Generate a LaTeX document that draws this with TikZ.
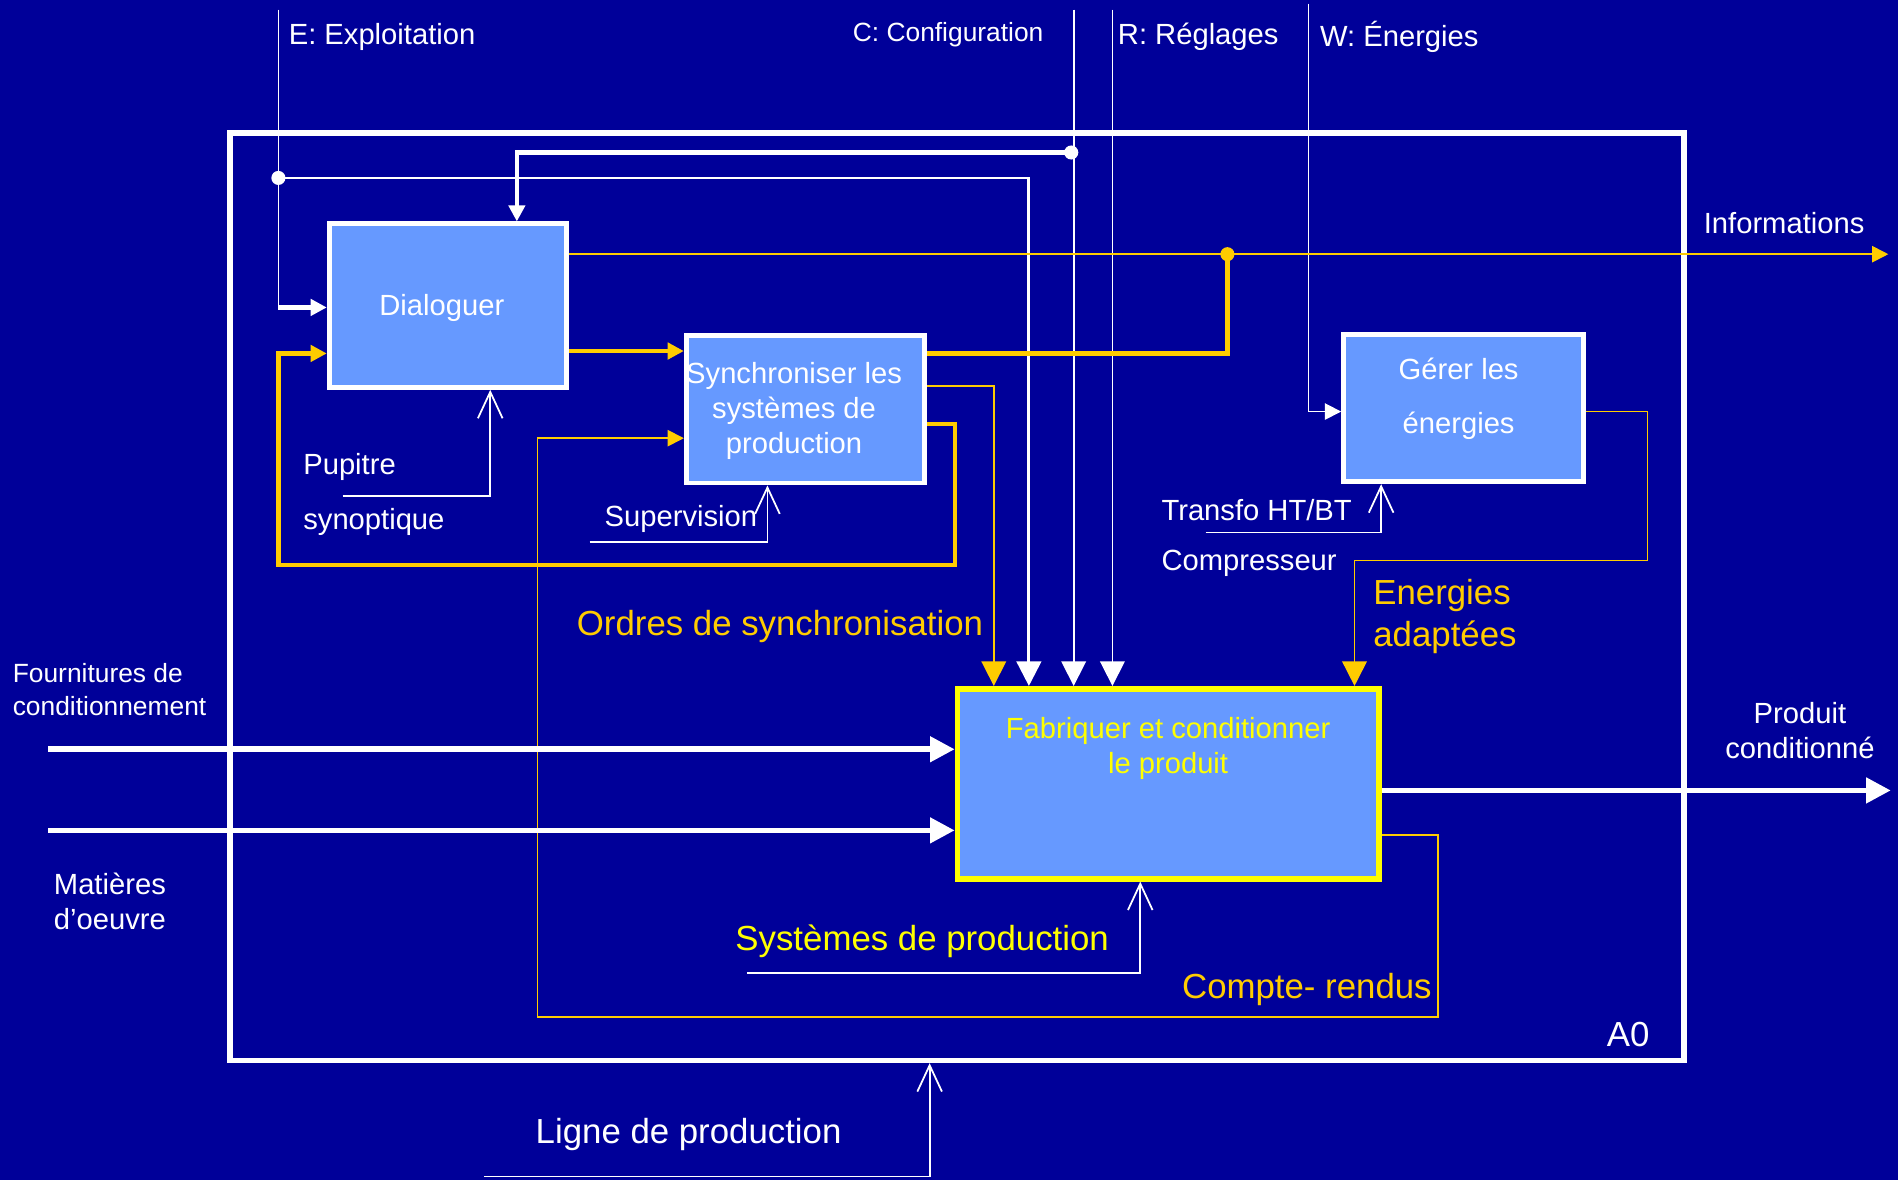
\documentclass[tikz,border=0pt]{standalone}
\usepackage{fontspec}
\setmainfont{Liberation Sans}
\usetikzlibrary{arrows.meta,fit}
\definecolor{bg}{HTML}{000099}
\definecolor{boxfill}{HTML}{6699FF}
\definecolor{orng}{HTML}{FFCC00}
\definecolor{yel}{HTML}{FFFF00}
\begin{document}
\begin{tikzpicture}[x=0.012105cm,y=-0.012105cm,
  lbl/.style={text=white,font=\fontsize{8.3}{10}\selectfont,inner sep=0pt,yshift=-0.9pt},
  smalllbl/.style={text=white,font=\fontsize{7.5}{9.3}\selectfont,inner sep=0pt,yshift=-0.9pt},
  biglbl/.style={font=\fontsize{9.9}{12}\selectfont,inner sep=0pt,yshift=-0.9pt},
  act/.style={draw=white,line width=1.4pt,fill=boxfill,inner sep=0pt},
  thinw/.style={draw=white,line width=0.5pt},
  midw/.style={draw=white,line width=0.8pt},
  thickw/.style={draw=white,line width=1.2pt},
  bigtip/.style={-{Triangle[length=7pt,width=7pt]}},
  smalltip/.style={-{Triangle[length=4.6pt,width=4.6pt]}},
  bigw/.style={draw=white,line width=1.6pt,bigtip},
  ythin/.style={draw=orng,line width=0.5pt},
  ythick/.style={draw=orng,line width=1.2pt},
  mech/.style={draw=white,line width=0.5pt,-{Straight Barb[length=7.5pt,width=7pt]}}
]
\fill[bg] (0,0) rectangle (1568,975);
\useasboundingbox (0,0) rectangle (1568,975);

% frame and activity boxes
\node[draw=white,line width=1.6pt,inner sep=0pt,fit={(190,110) (1391,876)}] (frame) {};
\node[act,fit={(272,185) (468,320)}] (dlg) {};
\node[act,fit={(567,277) (764,399)}] (syn) {};
\node[act,fit={(1110,276) (1308,398)}] (ger) {};
\node[act,draw=yel,line width=1.6pt,fit={(791,569) (1139,726)}] (fab) {};

\node[lbl] at (365,252) {Dialoguer};
\node[lbl,align=center] at (656,337) {Synchroniser les\\systèmes de\\production};
\node[lbl,align=center,font=\fontsize{8.3}{15.2}\selectfont] at (1205,327) {Gérer les\\énergies};
\node[lbl,text=yel,align=center] at (965,616) {Fabriquer et conditionner\\le produit};

% top control lines
\coordinate (ein) at (230,8);
\coordinate (cin) at (887,8);
\coordinate (rin) at (919,8);
\coordinate (win) at (1081,3);
\coordinate (edot) at (230,147);
\coordinate (cdot) at (885,126);

\draw[thinw] (ein) -- (230,254);
\draw[thickw,smalltip] (230,254) -- (dlg.west |- 230,254);
\draw[midw,bigtip] (edot) -| (850,0 |- fab.north);
\draw[thinw,bigtip] (cin) -- (887,0 |- fab.north);
\draw[thickw,smalltip] (cdot) -| (427,0 |- dlg.north);
\draw[thinw,bigtip] (rin) -- (919,0 |- fab.north);
\draw[thinw,smalltip] (win) |- (ger.west |- 0,340);
\fill[white] (edot) circle (2pt);
\fill[white] (cdot) circle (2pt);

% yellow connectors
\coordinate (ydot) at (1014,210);
\draw[ythin,smalltip] (dlg.east |- 0,210) -- (1560,210);
\draw[ythick] (syn.east |- 0,292) -| (ydot);
\fill[orng] (ydot) circle (2pt);
\draw[ythick,smalltip] (dlg.east |- 0,290) -- (syn.west |- 0,290);
\draw[ythick,smalltip] (syn.east |- 0,350) -| (789,467) -| (230,292) -- (dlg.west |- 0,292);
\draw[ythin,bigtip] (syn.east |- 0,319) -| (821,0 |- fab.north);
\draw[ythin,smalltip] (fab.east |- 0,690) -| (1188,840) -| (444,362) -- (syn.west |- 0,362);
\draw[ythin,bigtip] (ger.east |- 0,340) -| (1361,463) -| (1119,0 |- fab.north);

% inputs / outputs
\coordinate (fin) at (40,619);
\coordinate (min) at (40,686);
\coordinate (pout) at (1562,653);
\draw[bigw] (fin) -- (fab.west |- fin);
\draw[bigw] (min) -- (fab.west |- min);
\draw[bigw] (fab.east |- pout) -- (pout);

% mechanisms
\draw[mech] (283,410) -| (405,0 |- dlg.south);
\draw[mech] (487,448) -| (634,0 |- syn.south);
\draw[mech] (996,440) -| (1141,0 |- ger.south);
\draw[mech] (617,804) -| (942,0 |- fab.south);
\draw[mech] (400,972) -| (768,0 |- frame.south);

% labels
\node[lbl,anchor=west] at (238,28) {E: Exploitation};
\node[smalllbl,anchor=west] at (704,26) {C: Configuration};
\node[lbl,anchor=west] at (923,28) {R: Réglages};
\node[lbl,anchor=west] at (1090,28) {W: Énergies};
\node[lbl,anchor=west] at (1407,182) {Informations};
\node[lbl,anchor=west] at (250,383) {Pupitre};
\node[lbl,anchor=west] at (250,429) {synoptique};
\node[lbl,anchor=west] at (499,426) {Supervision};
\node[lbl,anchor=west] at (959,419) {Transfo HT/BT};
\node[lbl,anchor=west] at (959,463) {Compresseur};
\node[biglbl,text=orng,anchor=west] at (476,515) {Ordres de synchronisation};
\node[biglbl,text=orng,anchor=west,align=left] at (1134,507) {Energies\\adaptées};
\node[smalllbl,anchor=west,align=left] at (10,567) {Fournitures de\\conditionnement};
\node[lbl,anchor=west,align=left] at (44,742) {Matières\\d’oeuvre};
\node[lbl,align=center] at (1487,601) {Produit\\conditionné};
\node[biglbl,text=yel,anchor=west] at (607,775) {Systèmes de production};
\node[biglbl,text=orng,anchor=west] at (976,815) {Compte- rendus};
\node[biglbl,text=white] at (1345,852) {A0};
\node[biglbl,text=white,anchor=west] at (442,935) {Ligne de production};
\end{tikzpicture}
\end{document}
